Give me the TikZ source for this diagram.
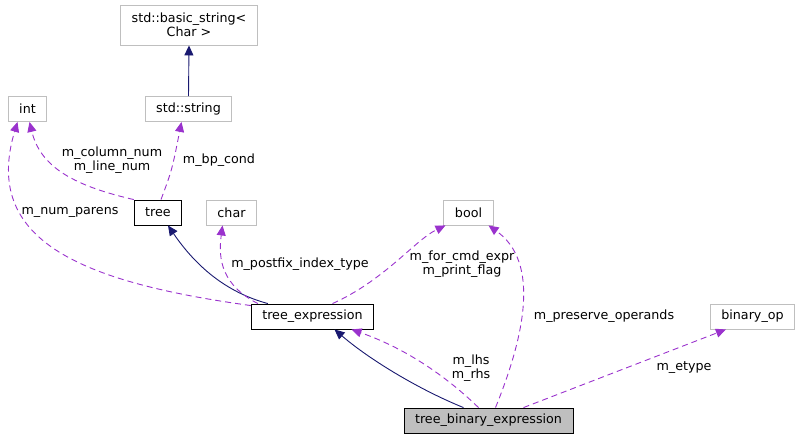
\documentclass[tikz,border=0pt]{standalone}
\usepackage{fontspec}
\setmainfont{DejaVu Sans}
\usepackage{tikz}
\usetikzlibrary{shapes,arrows.meta,positioning,calc}
\definecolor{edgeblue}{HTML}{191970}
\definecolor{edgepurple}{HTML}{9A32CD}
\definecolor{boxgray}{HTML}{BFBFBF}

\begin{document}
\begin{tikzpicture}[x=1pt, y=-1pt,
    font=\fontsize{12.7}{14.5}\selectfont,
    cls/.style={rectangle, draw=boxgray, line width=0.9pt, minimum height=25pt, inner xsep=11pt, inner ysep=2pt, align=center},
    known/.style={cls, draw=black},
    focus/.style={cls, draw=black, fill=boxgray},
    inherit/.style={draw=edgeblue, line width=0.9pt, -{Triangle[length=10pt,width=9pt]}},
    usage/.style={draw=edgepurple, line width=0.9pt, dash pattern=on 6pt off 4pt, -{Triangle[length=10pt,width=9pt]}},
    lbl/.style={align=center, inner sep=0pt}]
    \useasboundingbox (0,0) rectangle (802,440);

    % Classes
    \node (bstr) [cls, minimum height=40pt] at (189,25) {std::basic\_string<\\Char >};
    \node (str) [cls] at (188.5,109) {std::string};
    \node (int) [cls] at (27.5,109) {int};
    \node (tree) [known] at (158,212.5) {tree};
    \node (char) [cls] at (231.5,212.5) {char};
    \node (bool) [cls] at (468.5,212.5) {bool};
    \node (texpr) [known] at (312.5,316.5) {tree\_expression};
    \node (binop) [cls] at (752.5,316.5) {binary\_op};
    \node (tbin) [focus] at (488.5,420.5) {tree\_binary\_expression};

    % Edge labels
    \node (l1) [lbl] at (219,160) {m\_bp\_cond};
    \node (l2) [lbl] at (112,160) {m\_column\_num\\m\_line\_num};
    \node (l3) [lbl] at (70,212) {m\_num\_parens};
    \node (l4) [lbl] at (300,264) {m\_postfix\_index\_type};
    \node (l5) [lbl] at (462,264) {m\_for\_cmd\_expr\\m\_print\_flag};
    \node (l6) [lbl] at (604,316) {m\_preserve\_operands};
    \node (l7) [lbl] at (471,368) {m\_lhs\\m\_rhs};
    \node (l8) [lbl] at (684,368) {m\_etype};

    % Edges
    \draw [inherit] (str.north) -- (bstr.south);
    \draw [usage] ($(tree.north)+(3,0)$) .. controls (172,170) .. ($(str.south)+(-7,0)$);
    \draw [usage] (tree.north west) .. controls (70,185) and (40,165) .. ($(int.south)+(2,0)$);
    \draw [usage] ($(texpr.north west)+(0,2)$) .. controls (80,282) and (-18,240) .. ($(int.south)+(-10,0)$);
    \draw [inherit] ($(texpr.north west)+(17,0)$) .. controls (225,292) and (195,265) .. ($(tree.south)+(10,0)$);
    \draw [usage] ($(texpr.north west)+(7,0)$) .. controls (222,285) and (218,260) .. ($(char.south)+(-9,0)$);
    \draw [usage] ($(texpr.north)+(20,0)$) .. controls (385,280) and (415,240) .. ($(bool.south west)+(2,0)$);
    \draw [usage] ($(tbin.north)+(7,0)$) .. controls (525,335) and (540,262) .. ($(bool.south east)+(-5,0)$);
    \draw [inherit] ($(tbin.north)+(-25,0)$) .. controls (420,390) and (370,360) .. ($(texpr.south)+(22,0)$);
    \draw [usage] ($(tbin.north)+(-10,0)$) .. controls (450,380) and (410,350) .. ($(texpr.south)+(39,0)$);
    \draw [usage] ($(tbin.north)+(35,0)$) -- ($(binop.south west)+(16,0)$);
\end{tikzpicture}
\end{document}
